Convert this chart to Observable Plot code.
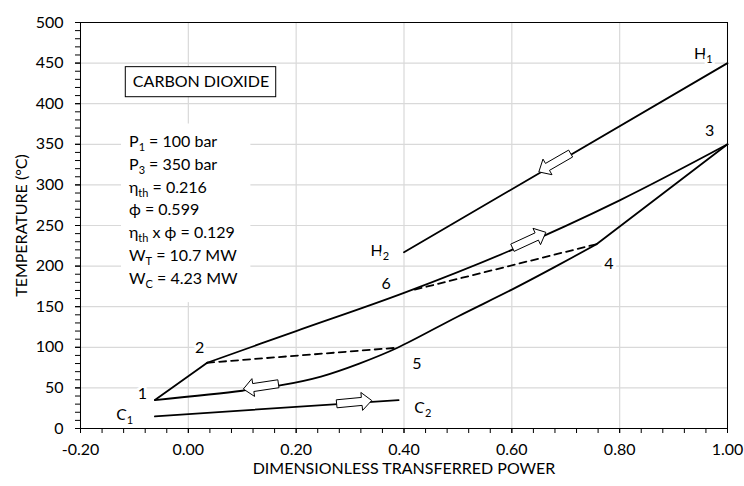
<!DOCTYPE html>
<html><head><meta charset="utf-8">
<script src="https://cdn.jsdelivr.net/npm/d3@7"></script>
<script src="https://cdn.jsdelivr.net/npm/@observablehq/plot@0.6"></script>
<style>body{margin:0;background:white;}</style>
</head><body><div id="chart"></div>
<script>
// ---- axes ----
const xTicks = [-0.2, 0.0, 0.2, 0.4, 0.6, 0.8, 1.0];
const yTicks = [0, 50, 100, 150, 200, 250, 300, 350, 400, 450, 500];
const xMinor = d3.range(-0.2, 1.0001, 0.04);
const yMinor = d3.range(0, 501, 10);

// ---- streams ----
const hotX = [0.40, 1.00];            // H2 -> H1 (heat source)
const hotY = [217, 450];
const coolX = [-0.062, 0.39];         // C1 -> C2 (cooling water)
const coolY = [15, 35];
const s12X = [-0.062, 0.035];         // 1 -> 2 (compression)
const s12Y = [35, 81];
const s23X = [0.035, 0.20, 0.40, 0.60, 0.80, 1.00];   // 2 -> 6 -> 3
const s23Y = [81, 120, 167, 220, 281, 350];
const s41X = [-0.062, 0.10, 0.17, 0.246, 0.317, 0.388, 0.50, 0.60, 0.68, 0.757]; // 1 <- 5 <- 4
const s41Y = [35, 46.5, 53, 64, 80, 99.5, 138, 171, 199, 227];
const s34X = [0.757, 1.00];           // 4 <- 3 (expansion)
const s34Y = [227, 350];
const d25X = [0.035, 0.388];          // dashed 2 - 5
const d25Y = [81, 99.5];
const d64X = [0.42, 0.757];           // dashed 6 - 4
const d64Y = [171, 227];

// ---- flow arrows (tail -> tip) ----
const arrTailX = [0.710, 0.602, 0.168, 0.276];
const arrTailY = [338, 222, 54.5, 29.8];
const arrTipX  = [0.651, 0.664, 0.103, 0.341];
const arrTipY  = [315.4, 241, 48, 33.9];

// ---- labels ----
const ptText = ["1", "2", "3", "4", "5", "6", "C_{1}", "C_{2}", "H_{1}", "H_{2}"];
const ptX = [-0.085, 0.021, 0.967, 0.780, 0.424, 0.367, -0.118, 0.435, 0.955, 0.355];
const ptY = [42.9, 99.6, 366, 202.5, 79.9, 177.8, 16.3, 25.3, 461.7, 218.9];

const parText = ["P_{1} = 100 bar", "P_{3} = 350 bar", "η_{th} = 0.216", "ϕ = 0.599",
                 "η_{th} x ϕ = 0.129", "W_{T} = 10.7 MW", "W_{C} = 4.23 MW"];
const parX = -0.110;
const parY = [353.3, 325.0, 296.8, 268.7, 240.5, 212.3, 184.0];
const parBox = {x1: -0.124, x2: 0.116, y1: 155, y2: 375};

const titleText = "CARBON DIOXIDE";
const titleBox = {x1: -0.116, x2: 0.163, y1: 408, y2: 445};
const titlePos = {x: 0.0235, y: 426.5};

const xTitle = "DIMENSIONLESS TRANSFERRED POWER";
const yTitle = "TEMPERATURE (°C)";

// ---- build tables ----
const toRows = (xs, ys, s) => xs.map((x, i) => ({x, y: ys[i], s}));
const straight = [
  ...toRows(hotX, hotY, "H"), ...toRows(coolX, coolY, "C"),
  ...toRows(s12X, s12Y, "12"), ...toRows(s34X, s34Y, "34")
];
const curved = [...toRows(s23X, s23Y, "23"), ...toRows(s41X, s41Y, "41")];
const dashed = [...toRows(d25X, d25Y, "25"), ...toRows(d64X, d64Y, "64")];
const arrows = arrTailX.map((x, i) => ({x1: x, y1: arrTailY[i], x2: arrTipX[i], y2: arrTipY[i]}));
const points = ptText.map((t, i) => ({t, x: ptX[i], y: ptY[i]}));
const params = parText.map((t, i) => ({t, x: parX, y: parY[i]}));

function blockArrows(index, scales, values) {
  const g = d3.create("svg:g");
  for (const i of index) {
    const x1 = values.x1[i], y1 = values.y1[i], x2 = values.x2[i], y2 = values.y2[i];
    const dx = x2 - x1, dy = y2 - y1, L = Math.hypot(dx, dy);
    const ux = dx / L, uy = dy / L, nx = -uy, ny = ux;
    const hl = 10, sw = 4, hw = 9;
    const mx = x2 - ux * hl, my = y2 - uy * hl;
    const pts = [
      [x1 + nx * sw, y1 + ny * sw], [mx + nx * sw, my + ny * sw], [mx + nx * hw, my + ny * hw],
      [x2, y2], [mx - nx * hw, my - ny * hw], [mx - nx * sw, my - ny * sw], [x1 - nx * sw, y1 - ny * sw]
    ];
    g.append("polygon").attr("points", pts.map(p => p.join(",")).join(" "))
      .attr("fill", "white").attr("stroke", "black").attr("stroke-width", 1);
  }
  return g.node();
}

const FS = 16;
const chart = Plot.plot({
  width: 744, height: 486,
  marginLeft: 80, marginRight: 17, marginTop: 22, marginBottom: 58,
  x: {domain: [-0.2, 1.0]},
  y: {domain: [0, 500]},
  style: {fontFamily: "Lato, sans-serif", fontSize: FS + "px", color: "black", background: "white"},
  marks: [
    Plot.gridX(xTicks, {stroke: "#d9d9d9", strokeOpacity: 1, strokeWidth: 1.2}),
    Plot.gridY(yTicks, {stroke: "#d9d9d9", strokeOpacity: 1, strokeWidth: 1.2}),
    Plot.rect([parBox], {x1: "x1", x2: "x2", y1: "y1", y2: "y2", fill: "white"}),
    Plot.rect([titleBox], {x1: "x1", x2: "x2", y1: "y1", y2: "y2", fill: "white", stroke: "black", strokeWidth: 1}),
    Plot.axisX(xMinor, {tickSize: 5, tickFormat: () => "", label: null}),
    Plot.axisX(xTicks, {tickSize: 5, tickPadding: 10, tickFormat: d => d.toFixed(2), label: null}),
    Plot.axisY(yMinor, {tickSize: 5, tickFormat: () => "", label: null}),
    Plot.axisY(yTicks, {tickSize: 5, tickPadding: 12, tickFormat: d => String(d), label: null}),
    Plot.frame({stroke: "black", strokeWidth: 1}),
    Plot.line(dashed, {x: "x", y: "y", z: "s", stroke: "black", strokeWidth: 1.8, strokeDasharray: "7,5"}),
    Plot.line(straight, {x: "x", y: "y", z: "s", stroke: "black", strokeWidth: 1.8}),
    Plot.line(curved, {x: "x", y: "y", z: "s", stroke: "black", strokeWidth: 1.8, curve: "catmull-rom"}),
    Plot.link(arrows, {x1: "x1", y1: "y1", x2: "x2", y2: "y2", render: blockArrows}),
    Plot.text(points, {x: "x", y: "y", text: "t", fill: "black", stroke: "white", strokeWidth: 6, textAnchor: "middle", fontSize: FS}),
    Plot.text(params, {x: "x", y: "y", text: "t", fill: "black", textAnchor: "start", fontSize: FS}),
    Plot.text([titlePos], {x: "x", y: "y", text: () => titleText, fill: "black", textAnchor: "middle", fontSize: FS}),
    Plot.text([xTitle], {frameAnchor: "bottom", dy: 45, text: d => d, textAnchor: "middle", fontSize: FS}),
    Plot.text([yTitle], {frameAnchor: "left", dx: -59, rotate: -90, text: d => d, textAnchor: "middle", fontSize: FS})
  ]
});

// subscripts: turn "A_{b}" into tspans
d3.select(chart).selectAll("text").each(function () {
  const t = this.textContent;
  if (!t.includes("_{")) return;
  const parts = t.split(/(_\{[^}]*\})/).filter(s => s);
  this.textContent = "";
  let shifted = false;
  for (const p of parts) {
    const ts = d3.select(this).append("tspan");
    if (p.startsWith("_{")) {
      ts.text(p.slice(2, -1)).attr("dy", 4).attr("font-size", "11px");
      shifted = true;
    } else {
      ts.text(p);
      if (shifted) { ts.attr("dy", -4); shifted = false; }
    }
  }
});

document.getElementById("chart").appendChild(chart);
</script>
</body></html>
